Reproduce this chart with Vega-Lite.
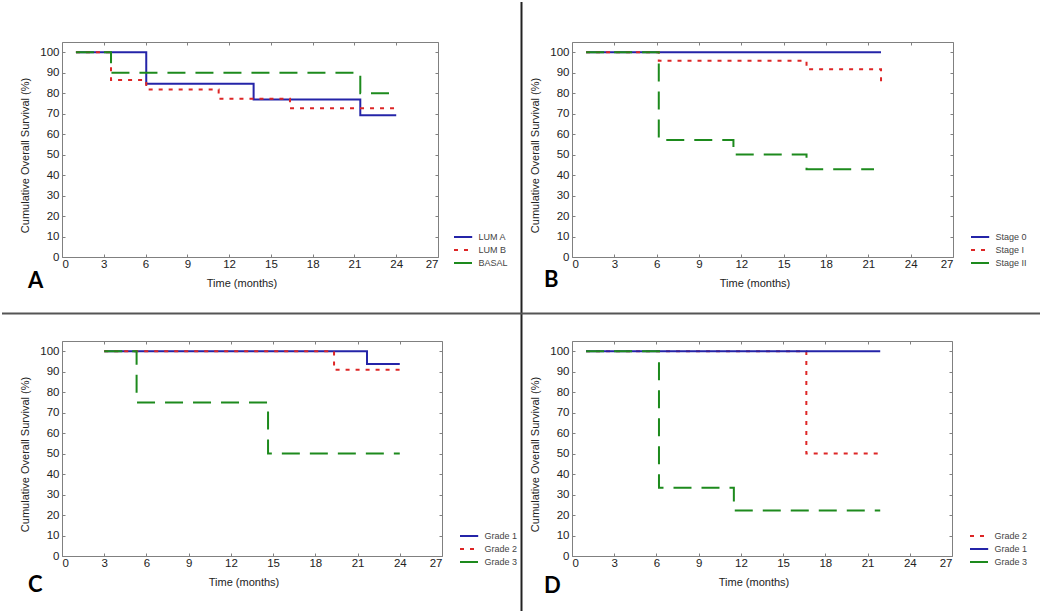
{
  "$schema": "https://vega.github.io/schema/vega-lite/v6.json",
  "background": "white",
  "padding": 0,
  "data": {"values": [
    {"p": "A", "g": "LUM A", "t": 1, "s": 100},
    {"p": "A", "g": "LUM A", "t": 6.05, "s": 84.6},
    {"p": "A", "g": "LUM A", "t": 13.76, "s": 76.9},
    {"p": "A", "g": "LUM A", "t": 21.42, "s": 69.2},
    {"p": "A", "g": "LUM A", "t": 24, "s": 69.2},
    {"p": "A", "g": "LUM B", "t": 1, "s": 100},
    {"p": "A", "g": "LUM B", "t": 3.52, "s": 86.4},
    {"p": "A", "g": "LUM B", "t": 6.05, "s": 81.8},
    {"p": "A", "g": "LUM B", "t": 11.25, "s": 77.3},
    {"p": "A", "g": "LUM B", "t": 16.37, "s": 72.7},
    {"p": "A", "g": "LUM B", "t": 24, "s": 72.7},
    {"p": "A", "g": "BASAL", "t": 1, "s": 100},
    {"p": "A", "g": "BASAL", "t": 3.52, "s": 90},
    {"p": "A", "g": "BASAL", "t": 21.42, "s": 80},
    {"p": "A", "g": "BASAL", "t": 24, "s": 80},
    {"p": "B", "g": "Stage 0", "t": 1, "s": 100},
    {"p": "B", "g": "Stage 0", "t": 21.9, "s": 100},
    {"p": "B", "g": "Stage I", "t": 1, "s": 100},
    {"p": "B", "g": "Stage I", "t": 6.15, "s": 95.8},
    {"p": "B", "g": "Stage I", "t": 16.62, "s": 91.7},
    {"p": "B", "g": "Stage I", "t": 21.9, "s": 85},
    {"p": "B", "g": "Stage II", "t": 1, "s": 100},
    {"p": "B", "g": "Stage II", "t": 6.15, "s": 57.1},
    {"p": "B", "g": "Stage II", "t": 11.44, "s": 50},
    {"p": "B", "g": "Stage II", "t": 16.62, "s": 42.9},
    {"p": "B", "g": "Stage II", "t": 21.4, "s": 42.9},
    {"p": "C", "g": "Grade 1", "t": 3, "s": 100},
    {"p": "C", "g": "Grade 1", "t": 21.67, "s": 93.8},
    {"p": "C", "g": "Grade 1", "t": 24, "s": 93.8},
    {"p": "C", "g": "Grade 2", "t": 3, "s": 100},
    {"p": "C", "g": "Grade 2", "t": 19.33, "s": 90.9},
    {"p": "C", "g": "Grade 2", "t": 24, "s": 90.9},
    {"p": "C", "g": "Grade 3", "t": 3, "s": 100},
    {"p": "C", "g": "Grade 3", "t": 5.3, "s": 75},
    {"p": "C", "g": "Grade 3", "t": 14.64, "s": 50},
    {"p": "C", "g": "Grade 3", "t": 24, "s": 50},
    {"p": "D", "g": "Grade 2", "t": 1, "s": 100},
    {"p": "D", "g": "Grade 2", "t": 16.65, "s": 50},
    {"p": "D", "g": "Grade 2", "t": 21.9, "s": 50},
    {"p": "D", "g": "Grade 1", "t": 1, "s": 100},
    {"p": "D", "g": "Grade 1", "t": 21.9, "s": 100},
    {"p": "D", "g": "Grade 3", "t": 1, "s": 100},
    {"p": "D", "g": "Grade 3", "t": 6.18, "s": 33.3},
    {"p": "D", "g": "Grade 3", "t": 11.5, "s": 22.2},
    {"p": "D", "g": "Grade 3", "t": 21.9, "s": 22.2}
  ]},
  "columns": 2,
  "bounds": "flush",
  "spacing": {"row": 84, "column": 130},
  "resolve": {"scale": {"color": "independent", "strokeDash": "independent"}},
  "concat": [
    {
      "width": 376, "height": 215,
      "resolve": {"axis": {"x": "independent", "y": "independent"}},
      "layer": [
        {
          "transform": [{"filter": "datum.p === 'A'"}],
          "mark": {"type": "line", "interpolate": "step-after", "strokeWidth": 2},
          "encoding": {
            "x": {"field": "t", "type": "quantitative", "scale": {"domain": [0, 27], "nice": false}, "axis": {"title": "Time (months)", "values": [0, 3, 6, 9, 12, 15, 18, 21, 24, 27], "titleX": 179.5}},
            "y": {"field": "s", "type": "quantitative", "scale": {"domain": [0, 105], "nice": false}, "axis": {"title": "Cumulative Overall Survival (%)", "values": [0, 10, 20, 30, 40, 50, 60, 70, 80, 90, 100], "titleY": 113}},
            "color": {"field": "g", "type": "nominal", "scale": {"domain": ["LUM A", "LUM B", "BASAL"], "range": ["#2424a8", "#dd2626", "#1d8a1d"]}, "legend": {"title": null, "legendX": 393.6, "legendY": 187.5}},
            "strokeDash": {"field": "g", "type": "nominal", "scale": {"domain": ["LUM A", "LUM B", "BASAL"], "range": [[1, 0], [4, 6], [18, 10]]}, "legend": {"title": null, "legendX": 393.6, "legendY": 187.5}}
          }
        },
        {
          "data": {"values": [{}]},
          "mark": {"type": "text", "align": "left", "baseline": "alphabetic", "fontSize": 22, "font": "Lato", "fontWeight": "bold", "color": "#000000", "clip": false},
          "encoding": {
            "text": {"value": "A"},
            "x": {"datum": -2.441, "axis": {"orient": "top", "labels": false, "title": null, "values": [0, 3, 6, 9, 12, 15, 18, 21, 24, 27]}},
            "y": {"datum": -15.14, "axis": {"orient": "right", "labels": false, "title": null, "values": [0, 10, 20, 30, 40, 50, 60, 70, 80, 90, 100]}}
          }
        }
      ]
    },
    {
      "width": 381, "height": 215,
      "resolve": {"axis": {"x": "independent", "y": "independent"}},
      "layer": [
        {
          "transform": [{"filter": "datum.p === 'B'"}],
          "mark": {"type": "line", "interpolate": "step-after", "strokeWidth": 2},
          "encoding": {
            "x": {"field": "t", "type": "quantitative", "scale": {"domain": [0, 27], "nice": false}, "axis": {"title": "Time (months)", "values": [0, 3, 6, 9, 12, 15, 18, 21, 24, 27], "titleX": 182.5}},
            "y": {"field": "s", "type": "quantitative", "scale": {"domain": [0, 105], "nice": false}, "axis": {"title": "Cumulative Overall Survival (%)", "values": [0, 10, 20, 30, 40, 50, 60, 70, 80, 90, 100], "titleY": 113}},
            "color": {"field": "g", "type": "nominal", "scale": {"domain": ["Stage 0", "Stage I", "Stage II"], "range": ["#2424a8", "#dd2626", "#1d8a1d"]}, "legend": {"title": null, "legendX": 400.6, "legendY": 187.5}},
            "strokeDash": {"field": "g", "type": "nominal", "scale": {"domain": ["Stage 0", "Stage I", "Stage II"], "range": [[1, 0], [4, 6], [18, 10]]}, "legend": {"title": null, "legendX": 400.6, "legendY": 187.5}}
          }
        },
        {
          "data": {"values": [{}]},
          "mark": {"type": "rule", "clip": false, "color": "#222222", "strokeWidth": 2},
          "encoding": {
            "x": {"datum": -3.579, "axis": null},
            "y": {"datum": 124.54, "axis": null},
            "y2": {"datum": -172.9}
          }
        },
        {
          "data": {"values": [{}]},
          "mark": {"type": "text", "align": "left", "baseline": "alphabetic", "fontSize": 22, "font": "Lato", "fontWeight": "bold", "color": "#000000", "clip": false},
          "encoding": {
            "text": {"value": "B"},
            "x": {"datum": -1.984, "axis": {"orient": "top", "labels": false, "title": null, "values": [0, 3, 6, 9, 12, 15, 18, 21, 24, 27]}},
            "y": {"datum": -14.65, "axis": {"orient": "right", "labels": false, "title": null, "values": [0, 10, 20, 30, 40, 50, 60, 70, 80, 90, 100]}}
          }
        }
      ]
    },
    {
      "width": 380, "height": 215,
      "resolve": {"axis": {"x": "independent", "y": "independent"}},
      "layer": [
        {
          "transform": [{"filter": "datum.p === 'C'"}],
          "mark": {"type": "line", "interpolate": "step-after", "strokeWidth": 2},
          "encoding": {
            "x": {"field": "t", "type": "quantitative", "scale": {"domain": [0, 27], "nice": false}, "axis": {"title": "Time (months)", "values": [0, 3, 6, 9, 12, 15, 18, 21, 24, 27], "titleX": 181.5}},
            "y": {"field": "s", "type": "quantitative", "scale": {"domain": [0, 105], "nice": false}, "axis": {"title": "Cumulative Overall Survival (%)", "values": [0, 10, 20, 30, 40, 50, 60, 70, 80, 90, 100], "titleY": 113}},
            "color": {"field": "g", "type": "nominal", "scale": {"domain": ["Grade 1", "Grade 2", "Grade 3"], "range": ["#2424a8", "#dd2626", "#1d8a1d"]}, "legend": {"title": null, "legendX": 399.6, "legendY": 187.5}},
            "strokeDash": {"field": "g", "type": "nominal", "scale": {"domain": ["Grade 1", "Grade 2", "Grade 3"], "range": [[1, 0], [4, 6], [18, 10]]}, "legend": {"title": null, "legendX": 399.6, "legendY": 187.5}}
          }
        },
        {
          "data": {"values": [{}]},
          "mark": {"type": "rule", "clip": false, "color": "#555555", "strokeWidth": 2},
          "encoding": {
            "x": {"datum": -4.263, "axis": null},
            "x2": {"datum": 69.49},
            "y": {"datum": 118.43, "axis": null}
          }
        },
        {
          "data": {"values": [{}]},
          "mark": {"type": "text", "align": "left", "baseline": "alphabetic", "fontSize": 22, "font": "Lato", "fontWeight": "bold", "color": "#000000", "clip": false},
          "encoding": {
            "text": {"value": "C"},
            "x": {"datum": -2.416, "axis": {"orient": "top", "labels": false, "title": null, "values": [0, 3, 6, 9, 12, 15, 18, 21, 24, 27]}},
            "y": {"datum": -17.58, "axis": {"orient": "right", "labels": false, "title": null, "values": [0, 10, 20, 30, 40, 50, 60, 70, 80, 90, 100]}}
          }
        }
      ]
    },
    {
      "width": 380, "height": 215,
      "resolve": {"axis": {"x": "independent", "y": "independent"}},
      "layer": [
        {
          "transform": [{"filter": "datum.p === 'D' && datum.g === 'Grade 2'"}],
          "mark": {"type": "line", "interpolate": "step-after", "strokeWidth": 2},
          "encoding": {
            "x": {"field": "t", "type": "quantitative", "scale": {"domain": [0, 27], "nice": false}, "axis": {"title": "Time (months)", "values": [0, 3, 6, 9, 12, 15, 18, 21, 24, 27], "titleX": 181.5}},
            "y": {"field": "s", "type": "quantitative", "scale": {"domain": [0, 105], "nice": false}, "axis": {"title": "Cumulative Overall Survival (%)", "values": [0, 10, 20, 30, 40, 50, 60, 70, 80, 90, 100], "titleY": 113}},
            "color": {"field": "g", "type": "nominal", "scale": {"domain": ["Grade 2", "Grade 1", "Grade 3"], "range": ["#dd2626", "#2424a8", "#1d8a1d"]}, "legend": {"title": null, "legendX": 399.6, "legendY": 187.5}},
            "strokeDash": {"field": "g", "type": "nominal", "scale": {"domain": ["Grade 2", "Grade 1", "Grade 3"], "range": [[4, 6], [1, 0], [18, 10]]}, "legend": {"title": null, "legendX": 399.6, "legendY": 187.5}}
          }
        },
        {
          "transform": [{"filter": "datum.p === 'D' && datum.g !== 'Grade 2'"}],
          "mark": {"type": "line", "interpolate": "step-after", "strokeWidth": 2},
          "encoding": {
            "x": {"field": "t", "type": "quantitative", "axis": null},
            "y": {"field": "s", "type": "quantitative", "axis": null},
            "color": {"field": "g", "type": "nominal", "legend": {"title": null, "legendX": 399.6, "legendY": 187.5}},
            "strokeDash": {"field": "g", "type": "nominal", "legend": {"title": null, "legendX": 399.6, "legendY": 187.5}}
          }
        },
        {
          "data": {"values": [{}]},
          "mark": {"type": "text", "align": "left", "baseline": "alphabetic", "fontSize": 22, "font": "Lato", "fontWeight": "bold", "color": "#000000", "clip": false},
          "encoding": {
            "text": {"value": "D"},
            "x": {"datum": -1.989, "axis": {"orient": "top", "labels": false, "title": null, "values": [0, 3, 6, 9, 12, 15, 18, 21, 24, 27]}},
            "y": {"datum": -18.07, "axis": {"orient": "right", "labels": false, "title": null, "values": [0, 10, 20, 30, 40, 50, 60, 70, 80, 90, 100]}}
          }
        }
      ]
    }
  ],
  "config": {
    "font": "Liberation Sans",
    "view": {"stroke": "#808080", "strokeWidth": 1},
    "axis": {"domain": false, "grid": false, "ticks": true, "tickSize": -3, "tickColor": "#808080", "labelFontSize": 11.5, "labelColor": "#222222", "labelOverlap": false, "titleFontSize": 11, "titleFontWeight": "normal", "titleColor": "#222222"},
    "axisX": {"labelPadding": 4, "titlePadding": 8},
    "axisY": {"labelPadding": 6, "titlePadding": 9},
    "legend": {"orient": "none", "padding": 0, "rowPadding": 0, "labelFontSize": 9, "labelColor": "#444444", "symbolType": "M-1.4,0H1.4", "symbolSize": 169, "symbolStrokeWidth": 2, "labelOffset": 8}
  }
}
